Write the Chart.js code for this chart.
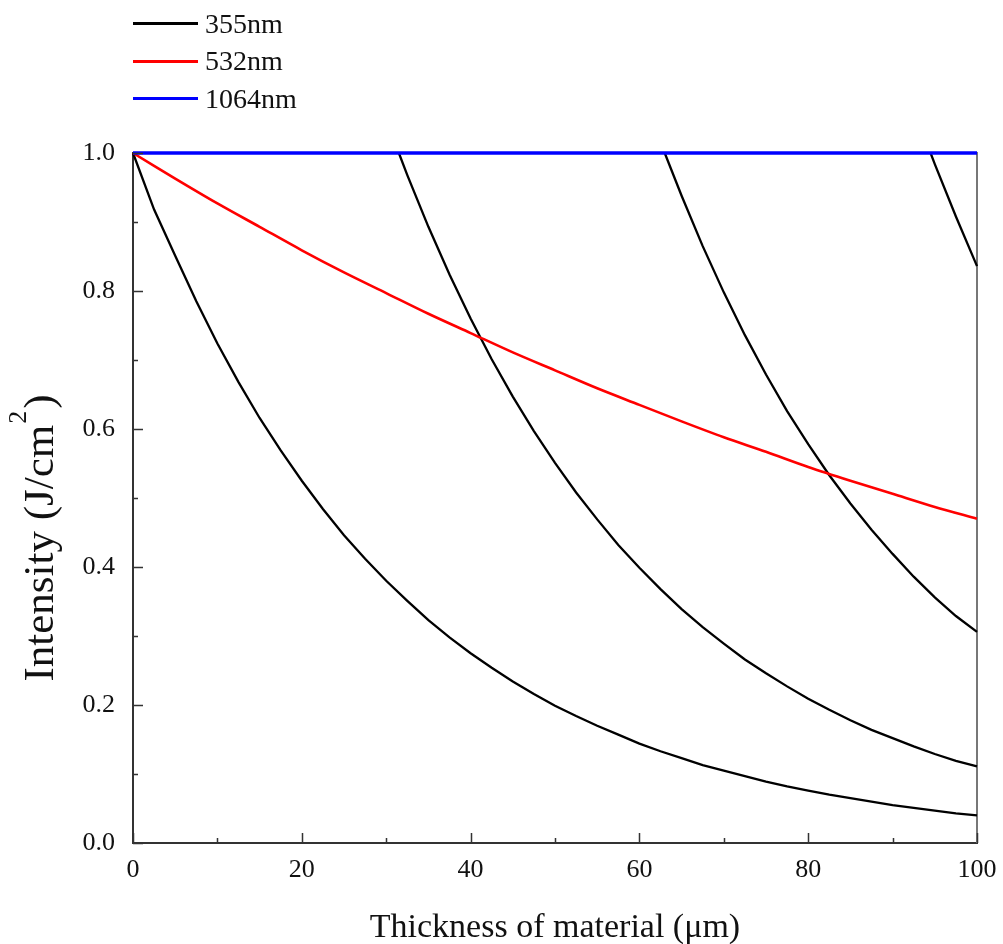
<!DOCTYPE html>
<html>
<head>
<meta charset="utf-8">
<script src="https://cdn.jsdelivr.net/npm/chart.js@4.4.1/dist/chart.umd.min.js"></script>
<style>
  html, body { margin: 0; padding: 0; background: #fff; }
  #wrap { position: relative; width: 1003px; height: 944px; }
  #legend { position: absolute; left: 133px; top: 5px; font-family: "Liberation Serif", serif; font-size: 28px; color: #111; }
  .item { display: flex; align-items: center; height: 37.5px; }
  .swatch { width: 65px; height: 3px; margin-right: 7px; }
</style>
</head>
<body>
<div id="wrap">
  <canvas id="c" width="1003" height="944"></canvas>
  <div id="legend"></div>
</div>
<script>
// ---- data ----
const seriesNames = ["355nm", "532nm", "1064nm"];
const seriesColors = ["#000000", "#ff0000", "#0000ff"];

// 355 nm: four decay segments (sawtooth)
const x355a = [0,2.5,5,7.5,10,12.5,15,17.5,20,22.5,25,27.5,30,32.5,35,37.5,40,42.5,45,47.5,50,52.5,55,57.5,60,62.5,65,67.5,70,72.5,75,77.5,80,82.5,85,87.5,90,92.5,95,97.5,100];
const y355a = [1.0,0.918,0.851,0.785,0.724,0.668,0.616,0.569,0.525,0.484,0.446,0.412,0.380,0.351,0.323,0.298,0.275,0.254,0.234,0.216,0.199,0.184,0.170,0.157,0.144,0.133,0.123,0.113,0.105,0.097,0.089,0.082,0.076,0.070,0.065,0.060,0.055,0.051,0.047,0.043,0.040];
const x355b = [31.5,32.5,35,37.5,40,42.5,45,47.5,50,52.5,55,57.5,60,62.5,65,67.5,70,72.5,75,77.5,80,82.5,85,87.5,90,92.5,95,97.5,100];
const y355b = [1.0,0.968,0.893,0.824,0.760,0.701,0.647,0.597,0.551,0.508,0.469,0.432,0.399,0.368,0.339,0.313,0.289,0.266,0.246,0.227,0.209,0.193,0.178,0.164,0.152,0.140,0.129,0.119,0.111];
const x355c = [63,65,67.5,70,72.5,75,77.5,80,82.5,85,87.5,90,92.5,95,97.5,100];
const y355c = [1.0,0.938,0.865,0.798,0.736,0.679,0.626,0.578,0.533,0.492,0.454,0.419,0.386,0.356,0.329,0.306];
const x355d = [94.5,95,97.5,100];
const y355d = [1.0,0.984,0.908,0.836];

// 532 nm
const x532 = [0,5,10,15,20,25,30,35,40,45,50,55,60,65,70,75,80,85,90,95,100];
const y532 = [1.0,0.963,0.927,0.893,0.859,0.827,0.797,0.767,0.739,0.711,0.685,0.659,0.635,0.611,0.588,0.567,0.545,0.525,0.506,0.487,0.470];

// 1064 nm
const x1064 = [0,100];
const y1064 = [1.0,1.0];

// axis ticks and titles
const xTicks = [0,20,40,60,80,100];
const yTicks = [0.0,0.2,0.4,0.6,0.8,1.0];
const xTitle = 'Thickness of material (\u03bcm)';
const yTitleParts = ['Intensity (J/cm', '2', ')'];

// ---- build ----
function pts(xs, ys) { return xs.map((x, i) => ({x: x, y: ys[i]})); }
const pts355 = [].concat(
  pts(x355a, y355a), [{x: 100.0001, y: null}],
  pts(x355b, y355b), [{x: 100.0002, y: null}],
  pts(x355c, y355c), [{x: 100.0003, y: null}],
  pts(x355d, y355d)
);

const SERIF = "'Liberation Serif', 'Times New Roman', serif";

const frameAndTicks = {
  id: 'frameAndTicks',
  beforeDatasetsDraw(chart) {
    const {ctx, chartArea: a} = chart;
    ctx.save();
    ctx.strokeStyle = '#777';
    ctx.lineWidth = 2;
    ctx.beginPath();
    ctx.moveTo(a.left, a.top);
    ctx.lineTo(a.right, a.top);
    ctx.lineTo(a.right, a.bottom);
    ctx.stroke();
    ctx.restore();
  },
  afterDatasetsDraw(chart) {
    const {ctx, chartArea: a, scales: {x, y}} = chart;
    ctx.save();
    ctx.strokeStyle = '#333';
    ctx.lineWidth = 1.5;
    ctx.beginPath();
    for (let v = 0; v <= 100; v += 10) {
      const px = Math.round(x.getPixelForValue(v)) + 0.5;
      const len = (v % 20 === 0) ? 10 : 5;
      ctx.moveTo(px, a.bottom);
      ctx.lineTo(px, a.bottom - len);
    }
    for (let i = 0; i <= 10; i++) {
      const v = i / 10;
      const py = Math.round(y.getPixelForValue(v)) + 0.5;
      const len = (i % 2 === 0) ? 10 : 5;
      ctx.moveTo(a.left, py);
      ctx.lineTo(a.left + len, py);
    }
    ctx.stroke();
    ctx.restore();
  },
  afterDraw(chart) {
    // y-axis title with a real superscript
    const {ctx} = chart;
    const big = '43px ' + SERIF, small = '26px ' + SERIF;
    ctx.save();
    ctx.fillStyle = '#111';
    ctx.textBaseline = 'alphabetic';
    ctx.textAlign = 'left';
    ctx.font = big; const w0 = ctx.measureText(yTitleParts[0]).width, w2 = ctx.measureText(yTitleParts[2]).width;
    ctx.font = small; const w1 = ctx.measureText(yTitleParts[1]).width;
    const total = w0 + w1 + 3 + w2;
    ctx.translate(53, 538);
    ctx.rotate(-Math.PI / 2);
    let cx = -total / 2;
    ctx.font = big; ctx.fillText(yTitleParts[0], cx, 0); cx += w0 + 1;
    ctx.font = small; ctx.fillText(yTitleParts[1], cx, -27); cx += w1 + 2;
    ctx.font = big; ctx.fillText(yTitleParts[2], cx, 0);
    ctx.restore();
  }
};

const chart = new Chart(document.getElementById('c'), {
  type: 'line',
  data: {
    datasets: [
      { label: seriesNames[0], data: pts355, borderColor: seriesColors[0], borderWidth: 2.3, pointRadius: 0, spanGaps: false, tension: 0, order: 3, clip: 6 },
      { label: seriesNames[1], data: pts(x532, y532), borderColor: seriesColors[1], borderWidth: 2.6, pointRadius: 0, tension: 0.3, order: 2, clip: 6 },
      { label: seriesNames[2], data: pts(x1064, y1064), borderColor: seriesColors[2], borderWidth: 3.5, pointRadius: 0, tension: 0, order: 1, clip: 6 }
    ]
  },
  options: {
    responsive: false,
    animation: false,
    layout: { padding: { top: 153, right: 26, left: 0, bottom: 0 } },
    plugins: { legend: { display: false }, tooltip: { enabled: false } },
    scales: {
      x: {
        type: 'linear', min: 0, max: 100,
        afterFit(s) { s.height = 101; s.paddingLeft = 0; s.paddingRight = 0; },
        afterBuildTicks(s) { s.ticks = xTicks.map(v => ({value: v})); },
        grid: { display: false, drawTicks: false },
        border: { display: true, color: '#333', width: 2 },
        ticks: { padding: 12, color: '#111', font: { family: SERIF, size: 26 }, maxRotation: 0 },
        title: { display: true, text: xTitle, color: '#111', font: { family: SERIF, size: 34 }, padding: { top: 0, bottom: -4 } }
      },
      y: {
        type: 'linear', min: 0, max: 1,
        afterFit(s) { s.width = 133; s.paddingTop = 0; s.paddingBottom = 0; },
        afterBuildTicks(s) { s.ticks = yTicks.map(v => ({value: v})); },
        grid: { display: false, drawTicks: false },
        border: { display: true, color: '#333', width: 2 },
        ticks: { padding: 18, color: '#111', font: { family: SERIF, size: 26 }, callback: v => Number(v).toFixed(1) },
        title: { display: false }
      }
    }
  },
  plugins: [frameAndTicks]
});

// HTML legend from the datasets
const lg = document.getElementById('legend');
chart.data.datasets.forEach(ds => {
  const it = document.createElement('div'); it.className = 'item';
  const sw = document.createElement('span'); sw.className = 'swatch'; sw.style.background = ds.borderColor;
  const tx = document.createElement('span'); tx.textContent = ds.label;
  it.appendChild(sw); it.appendChild(tx); lg.appendChild(it);
});
</script>
</body>
</html>
